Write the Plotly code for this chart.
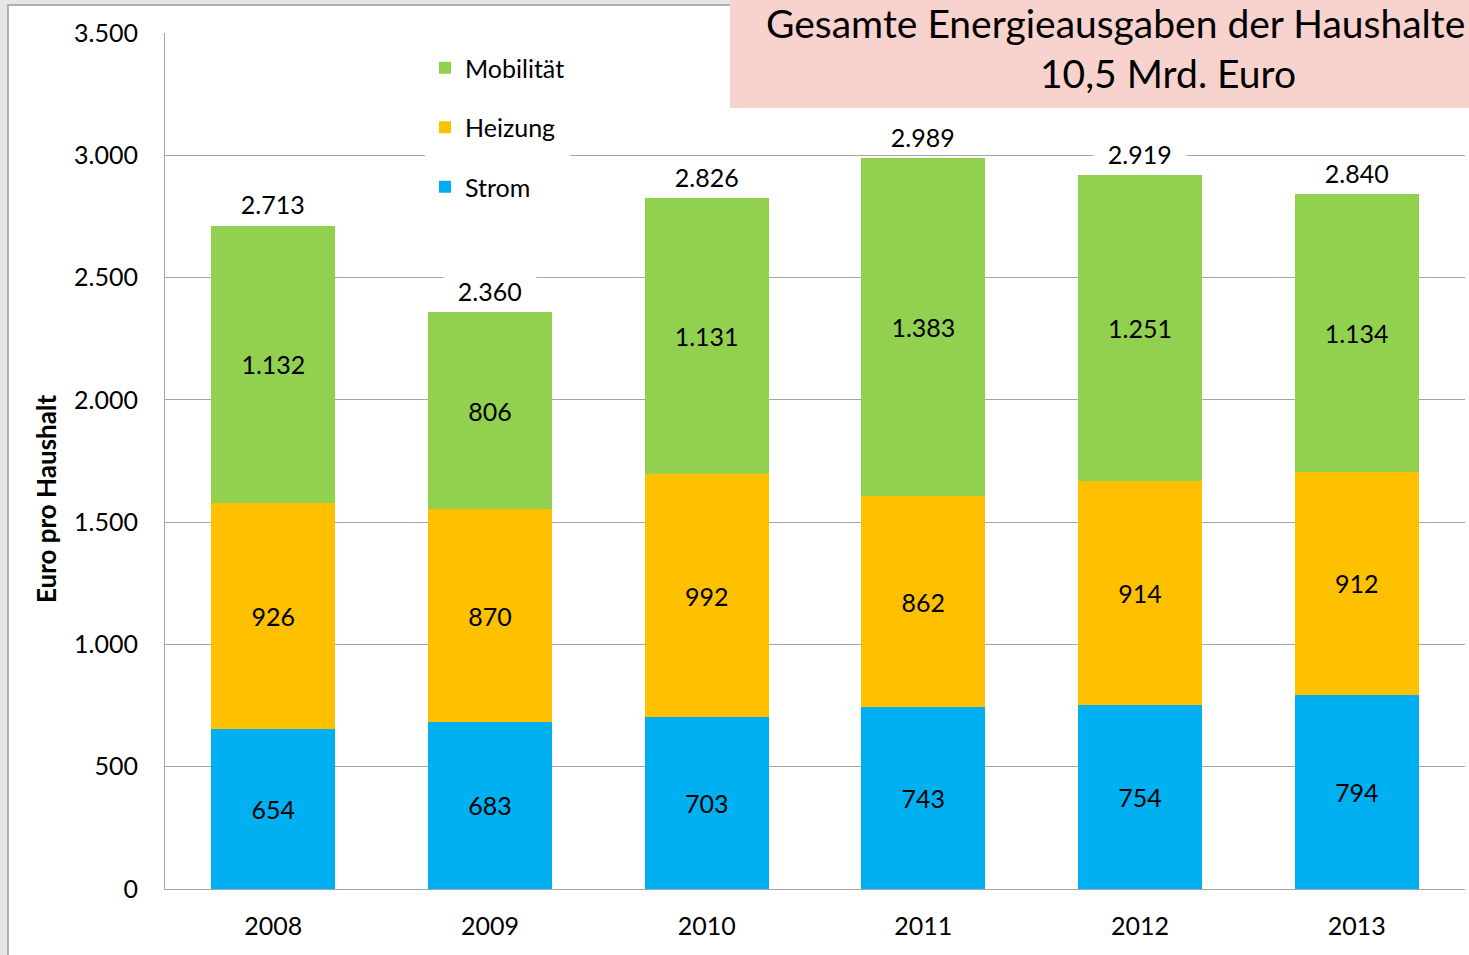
import plotly.graph_objects as go

years = ["2008", "2009", "2010", "2011", "2012", "2013"]
strom = [654, 683, 703, 743, 754, 794]
heizung = [926, 870, 992, 862, 914, 912]
mobilitaet = [1132, 806, 1131, 1383, 1251, 1134]
totals = [2713, 2360, 2826, 2989, 2919, 2840]

W, H = 1469, 955
L, R, T, B = 165, 4, 33, 66
PW, PH = W - L - R, H - T - B

def px_x(px):
    return (px - L) / PW

def px_y(py):
    return (H - B - py) / PH

FONT = "Lato"
fs = 25

fig = go.Figure()
series = [("Strom", strom, "#00B0F0", 3), ("Heizung", heizung, "#FFC000", 2), ("Mobilität", mobilitaet, "#92D050", 1)]
for name, vals, col, rank in series:
    fig.add_trace(go.Bar(
        x=years, y=vals, name=name, marker=dict(color=col, line=dict(width=0)),
        texttemplate="%{y:,}", textposition="inside", insidetextanchor="middle",
        textangle=0, constraintext="none",
        textfont=dict(family=FONT, size=fs, color="black"),
        legendgroup=name, legendrank=rank,
    ))

for i, tot in enumerate(totals):
    fig.add_annotation(x=i, y=tot, text="&nbsp;&nbsp;" + f"{tot:,}".replace(",", ".") + "&nbsp;&nbsp;",
                       showarrow=False, yanchor="middle", yshift=21, bgcolor="white", borderpad=1,
                       font=dict(family=FONT, size=fs, color="black"))

# outer frame
fig.add_shape(type="rect", xref="paper", yref="paper",
              x0=px_x(8), x1=px_x(W + 20), y0=px_y(W), y1=px_y(5),
              fillcolor="white", line=dict(color="#9A9A9A", width=1.5), layer="below")
# pink box
fig.add_shape(type="rect", xref="paper", yref="paper",
              x0=px_x(730), x1=px_x(W + 20), y0=px_y(108), y1=px_y(-5),
              fillcolor="#F8D3CE", line=dict(width=0), layer="above")
fig.add_annotation(xref="paper", yref="paper", x=px_x(764), y=px_y(23), xanchor="left", yanchor="middle",
                   text="Gesamte Energieausgaben der Haushalte", showarrow=False,
                   font=dict(family=FONT, size=39, color="black"))
fig.add_annotation(xref="paper", yref="paper", x=px_x(1168), y=px_y(73), xanchor="center", yanchor="middle",
                   text="10,5 Mrd. Euro", showarrow=False,
                   font=dict(family=FONT, size=39, color="black"))
# y-axis title
fig.add_annotation(xref="paper", yref="paper", x=px_x(46), y=px_y(499), xanchor="center", yanchor="middle",
                   text="<b>Euro pro Haushalt</b>", textangle=-90, showarrow=False,
                   font=dict(family=FONT, size=26, color="black"))

fig.update_layout(
    width=W, height=H,
    margin=dict(l=L, r=R, t=T, b=B),
    barmode="stack", bargap=0.428,
    separators=",.",
    paper_bgcolor="#E6E6E6", plot_bgcolor="white",
    font=dict(family=FONT, size=fs, color="black"),
    legend=dict(x=px_x(425), y=px_y(45), xanchor="left", yanchor="top",
                bgcolor="white", traceorder="grouped", tracegroupgap=24,
                font=dict(family=FONT, size=fs)),
    xaxis=dict(type="category", range=[-0.5, 5.5], showline=True, linecolor="#A6A6A6", linewidth=1,
               ticks="", ticklabelstandoff=15, tickfont=dict(size=fs)),
    yaxis=dict(range=[0, 3500], dtick=500, tickformat=",d", showgrid=True,
               gridcolor="#A6A6A6", gridwidth=1, showline=True, linecolor="#A6A6A6",
               linewidth=1, zeroline=False, ticks="", ticklabelstandoff=21),
)

fig.write_html("out.html", config={"displayModeBar": False},
               post_script="document.body.style.margin='0';document.body.style.padding='0';")
